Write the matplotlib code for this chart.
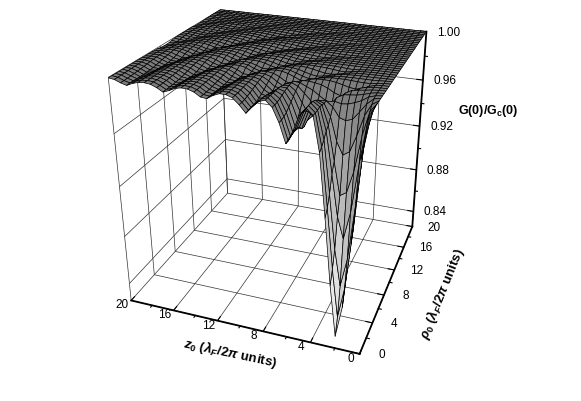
import numpy as np
import matplotlib
matplotlib.use('Agg')
import matplotlib.pyplot as plt
from matplotlib.colors import LinearSegmentedColormap

plt.rcParams['font.family'] = ['Liberation Sans', 'DejaVu Sans']
plt.rcParams['mathtext.fontset'] = 'custom'
plt.rcParams['mathtext.rm'] = 'Liberation Sans:bold'
plt.rcParams['mathtext.it'] = 'Liberation Sans:italic:bold'
plt.rcParams['mathtext.bf'] = 'Liberation Sans:bold'

rho = np.arange(0, 20.5, 0.5)
z0 = np.arange(0, 20.5, 0.5)
zmin = 0.825

# 1 - G(0)/Gc(0) in units of 1e-4: one row per rho, one column per z0
deficit = [
    [0, 300,900,1400,1650,1250,750,300,60,20,75, 190,275,140,46,5,20,60,110,60,20, 5,5,23,50,45,18,4,2,11,32, 48,24,7,2,6,19,38,26,9,3],
    [0, 260,820,1280,1520,1150,700,280,60,20,75, 190,275,140,46,5,20,60,108,60,20, 5,5,23,50,45,18,4,2,11,32, 47,24,7,2,6,19,37,26,9,3],
    [0, 180,650,1080,1300,1020,620,250,60,20,80, 195,265,135,45,6,22,62,106,58,19, 5,6,24,50,44,17,4,2,12,33, 46,23,7,2,6,20,37,25,8,3],
    [0, 100,400,750,960,800,500,210,55,25,95, 210,255,125,38,6,26,68,104,52,16, 4,7,26,50,42,15,4,3,14,35, 45,21,6,2,7,21,37,24,8,3],
    [0, 60,230,480,640,670,430,190,60,35,115, 240,235,105,30,8,32,78,100,45,13, 4,9,30,52,38,13,3,4,16,38, 43,19,5,3,8,24,38,22,7,3],
    [0, 30,110,250,370,400,310,150,65,50,150, 245,200,85,22,9,40,85,92,38,10, 4,12,35,52,34,11,3,5,20,40, 40,17,5,3,9,26,38,20,6,3],
    [0, 10,50,110,165,180,165,100,65,70,180, 225,160,65,15,12,50,90,80,30,8, 5,15,40,52,30,9,3,7,24,42, 36,14,4,3,11,29,37,18,5,3],
    [0, 5,20,50,70,85,90,80,85,130,205, 190,120,45,12,18,62,90,65,22,6, 6,19,45,50,26,7,3,10,30,46, 30,11,3,4,13,32,36,15,4,3],
    [0, 2,10,25,35,40,45,70,130,175,160, 115,70,28,10,25,68,85,50,16,5, 8,25,48,45,20,5,4,14,34,45, 24,8,3,5,16,34,33,12,4,3],
    [0, 1,5,12,18,25,50,105,135,120,90, 60,40,20,15,38,72,72,35,11,5, 11,32,50,38,14,4,6,20,38,40, 18,6,3,7,20,35,29,9,3,3],
    [0, 1,3,8,20,50,85,90,75,50,32, 24,18,20,38,66,78,52,22,8,6, 20,42,50,28,10,4,10,27,42,32, 12,4,4,10,25,37,24,6,3,4],
    [0, 1,5,18,40,48,42,30,20,13,12, 13,20,35,60,72,60,32,13,6,8, 26,45,44,20,6,5,15,34,43,24, 8,3,5,14,30,35,18,4,3,6],
    [0, 2,8,14,15,13,10,8,8,9,14, 22,40,58,55,35,18,7,5,10,28, 45,36,14,5,5,12,27,40,35,14, 5,3,6,18,34,32,13,3,2,4],
    [0, 1,4,6,6,6,6,7,9,14,22, 34,48,52,40,24,10,5,7,16,34, 42,30,10,4,6,18,33,41,28,10, 4,3,9,23,35,27,10,3,2,5],
    [0, 1,2,3,3,3,4,6,10,18,28, 38,44,38,25,13,6,5,12,26,38, 38,22,8,4,10,24,38,38,18,6, 3,4,13,27,34,20,6,2,3,7],
    [0, 0,1,1,2,3,5,9,18,28,34, 32,24,14,7,5,7,14,28,38,28, 14,6,4,4,9,25,37,18,7,3, 2,7,22,34,20,7,2,2,4,7],
    [0, 0,1,1,2,4,7,14,22,20,15, 10,7,5,4,6,10,20,32,30,18, 8,4,4,8,22,36,24,9,3,2, 3,10,26,30,15,5,2,2,5,12],
    [0, 0,0,1,2,5,10,14,12,9,6, 5,4,4,6,11,20,30,28,16,7, 4,3,7,18,32,30,14,5,2,2, 6,18,32,24,9,3,2,3,8,15],
    [0, 0,0,1,2,3,4,4,4,3,3, 3,3,3,8,15,23,23,14,7,3, 3,4,10,21,33,21,10,3,2,2, 12,26,28,15,6,2,2,6,14,16],
    [0, 0,0,1,1,2,3,3,3,3,3, 3,5,9,14,21,22,17,9,4,3, 3,6,16,29,24,11,4,2,2,4, 11,27,26,13,5,2,2,5,12,15],
    [0, 0,0,0,1,2,2,3,3,3,3, 4,7,12,18,19,15,9,5,3,3, 7,16,26,25,14,5,2,2,3,12, 27,23,9,3,2,2,5,11,16,9],
    [0, 0,0,0,1,1,2,2,3,3,4, 9,13,16,14,10,6,4,3,3,6, 13,23,24,14,7,2,2,2,10,20, 26,15,5,2,2,3,8,14,11,5],
    [0, 0,0,0,0,1,1,2,4,7,10, 11,9,6,4,3,2,3,5,9,15, 22,24,14,7,3,2,2,8,17,26, 17,8,2,2,2,5,12,14,7,3],
    [0, 0,0,0,0,1,2,4,6,7,7, 6,4,3,2,2,3,5,8,13,20, 21,14,8,3,2,2,4,14,23,18, 8,3,1,1,3,9,14,9,4,2],
    [0, 0,0,0,0,0,1,1,2,2,2, 2,2,2,3,5,8,13,18,20,16, 10,5,2,1,2,7,16,23,18,9, 3,1,1,3,7,13,13,7,3,2],
    [0, 0,0,0,0,0,0,1,1,1,2, 2,2,3,5,8,12,16,17,12,7, 4,2,1,1,4,10,18,21,13,6, 2,1,2,4,9,13,11,5,2,2],
    [0, 0,0,0,0,0,0,0,1,1,1, 2,3,5,8,11,14,13,9,5,3, 1,1,1,4,9,16,20,14,7,2, 1,1,2,5,10,13,10,4,2,1],
    [0, 0,0,0,0,0,0,0,0,1,1, 2,3,6,8,11,10,8,5,3,2, 1,2,5,11,18,19,11,5,2,1, 1,2,6,10,12,9,5,2,1,1],
    [0, 0,0,0,0,0,0,0,0,1,2, 4,6,8,9,7,5,3,2,1,1, 2,5,10,15,18,14,8,3,1,1, 2,5,9,12,10,6,3,1,1,1],
    [0, 0,0,0,0,0,0,0,1,3,5, 6,5,4,2,1,1,1,2,3,5, 8,13,16,17,12,7,3,1,1,2, 5,9,11,8,4,2,1,2,4,7],
    [0, 0,0,0,0,0,0,0,0,0,0, 0,1,1,1,1,1,1,2,3,6, 9,12,14,11,7,3,1,1,1,3, 6,9,10,8,4,2,1,1,3,6],
    [0, 0,0,0,0,0,0,0,0,0,0, 0,0,0,1,1,1,1,2,4,8, 11,12,8,5,2,1,1,1,2,4, 8,9,7,4,2,1,1,3,5,6],
    [0, 0,0,0,0,0,0,0,0,0,0, 0,0,0,0,0,1,2,5,10,8, 5,2,1,1,1,1,2,3,6,8, 6,3,1,1,1,2,3,5,6,5],
    [0, 0,0,0,0,0,0,0,0,0,0, 0,0,0,1,2,4,7,8,5,3, 1,1,1,1,1,1,2,4,7,6, 3,1,1,1,2,3,4,5,4,2],
    [0, 0,0,0,0,0,0,0,0,0,0, 1,1,2,4,6,5,3,1,0,0, 0,0,0,1,1,2,4,6,5,3, 1,1,1,1,1,3,5,4,2,1],
    [0, 0,0,0,0,0,0,0,0,0,1, 2,3,4,3,2,1,0,0,0,0, 0,0,0,1,2,3,5,4,3,1, 1,0,1,1,2,3,4,3,2,1],
    [0, 0,0,0,0,0,0,0,1,1,2, 1,1,0,0,0,0,0,0,0,0, 0,0,0,1,3,4,3,1,0,0, 0,0,1,2,4,3,1,0,0,0],
    [0, 0,0,0,0,0,0,0,0,0,0, 0,0,0,0,0,0,0,0,0,0, 0,0,1,3,2,1,0,0,0,0, 0,0,1,2,3,2,1,0,0,0],
    [0, 0,0,0,0,0,0,0,0,0,0, 0,0,0,0,0,0,0,0,0,0, 0,1,2,1,0,0,0,0,0,0, 0,1,2,3,2,1,0,0,0,0],
    [0, 0,0,0,0,0,0,0,0,0,0, 0,0,0,0,0,0,0,0,0,1, 2,1,0,0,0,0,0,0,0,1, 1,2,1,1,0,0,0,0,0,0],
    [0, 0,0,0,0,0,0,0,0,0,0, 0,0,0,0,0,0,0,0,0,0, 0,0,0,0,0,0,0,0,0,0, 0,1,1,1,0,0,0,0,0,0],
]
rho_ticks = [0, 4, 8, 12, 16, 20]
z0_ticks = [0, 4, 8, 12, 16, 20]
g_ticks = [0.84, 0.88, 0.92, 0.96, 1.00]

R, Z = np.meshgrid(rho, z0, indexing='ij')
G = 1 - np.array(deficit) / 1e4

fig = plt.figure(figsize=(5.81, 4.02), dpi=100)
ax = fig.add_axes([0, 0, 1, 1], projection='3d')

cmap = LinearSegmentedColormap.from_list('g', ['#f0f0f0', '#7a7a7a'])
ax.plot_surface(R, Z, G, facecolors=cmap((G - zmin) / (1 - zmin)), shade=False,
                edgecolor='black', linewidth=0.5, rcount=41, ccount=41)

ax.set_xlim(0, 20, view_margin=0)
ax.set_ylim(0, 20, view_margin=0)
ax.set_zlim(zmin, 1.0, view_margin=0)

# camera fitted to where the box corners sit in the picture (rho, z0, G) -> pixel
cal = [(0, 20, zmin, 131.7, 301.7), (0, 0, zmin, 359.3, 355), (20, 0, zmin, 411.7, 228),
       (20, 20, zmin, 228, 196), (0, 20, 1, 108, 78), (20, 20, 1, 220, 12.7),
       (20, 0, 1, 427, 33), (20, 20, 0.92, 224, 97), (20, 20, 0.88, 225, 139),
       (20, 0, 0.92, 419.8, 127), (20, 0, 0.88, 416.5, 170)]
ax.apply_aspect()
A, b = [], []
for x, y, z, px, py in cal:
    u, v = ax.transData.inverted().transform((px, 402 - py))
    A.append([x, y, z, 1, 0, 0, 0, 0, -u * x, -u * y, -u * z])
    A.append([0, 0, 0, 0, x, y, z, 1, -v * x, -v * y, -v * z])
    b += [u, v]
m = np.linalg.lstsq(np.array(A), np.array(b), rcond=None)[0]
M = np.array([m[:4], m[4:8], [0, 0, 0, -1], [m[8], m[9], m[10], 1]])
ax.get_proj = lambda: M


def tick_label(text, x, y, z, dx, dy):
    p = M @ np.array([x, y, z, 1])
    ax.annotate(text, (p[0] / p[3], p[1] / p[3]), xytext=(dx, dy), textcoords='offset pixels',
                ha='center', va='center', fontsize=8.5, annotation_clip=False)


ax.set_xticks(rho_ticks)
ax.set_yticks(z0_ticks)
ax.set_zticks(g_ticks)
ax.set_xticklabels([''] * len(rho_ticks))
ax.set_yticklabels([''] * len(z0_ticks))
ax.set_zticklabels([''] * len(g_ticks))
ax.zaxis.set_ticks_position('lower')
for a in (ax.xaxis, ax.yaxis, ax.zaxis):
    a.set_pane_color((1, 1, 1, 0))
    a.pane.set_edgecolor('black')
    a.pane.set_linewidth(0.5)
    a._axinfo['grid']['color'] = '#333333'
    a._axinfo['grid']['linewidth'] = 0.5
    a._axinfo['tick']['inward_factor'] = 0
    a._axinfo['tick']['outward_factor'] = 0.35
    a.line.set_linewidth(1.3)

for t in rho_ticks:
    tick_label(str(t), t, 0, zmin, 22, 0)
for t in z0_ticks:
    tick_label(str(t), 0, t, zmin, -9, -4)
for t in g_ticks:
    tick_label('%.2f' % t, 20, 0, t, 22, 0)

# minor ticks, no gridlines on them
for t in [2, 6, 10, 14, 18]:
    ax.plot([t, t], [0, -0.25], [zmin, zmin], color='black', lw=0.8)
    ax.plot([0, -0.25], [t, t], [zmin, zmin], color='black', lw=0.8)
for t in [0.86, 0.90, 0.94, 0.98]:
    ax.plot([20, 20], [0, -0.25], [t, t], color='black', lw=0.8)

fig.text(230 / 581, 1 - 353 / 402, r'$\mathit{z_0}$ ($\lambda_{\mathit{F}}$/2$\pi$ units)',
         rotation=-12, ha='center', va='center', fontsize=9.5, fontweight='bold')
fig.text(442 / 581, 1 - 294 / 402, r'$\rho_{\mathit{0}}$ ($\lambda_{\mathit{F}}$/2$\pi$ units)',
         rotation=68, ha='center', va='center', fontsize=9.5, fontweight='bold')
fig.text(458 / 581, 1 - 111 / 402, r'G(0)/G$_\mathrm{c}$(0)', ha='left', va='center',
         fontsize=9, fontweight='bold')

plt.savefig('out.png', dpi=100)
